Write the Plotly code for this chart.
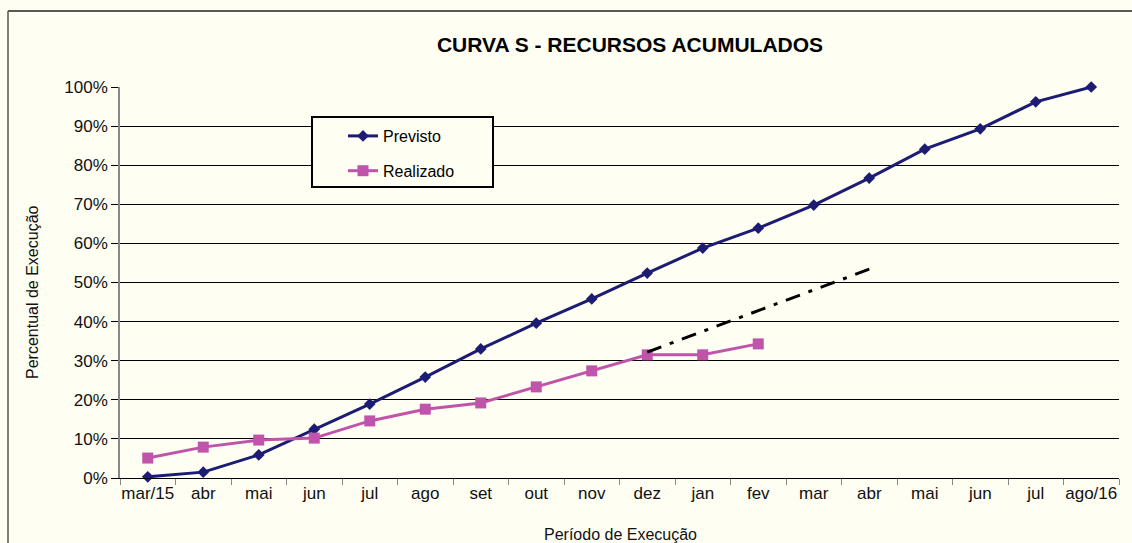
import plotly.graph_objects as go

months = ["mar/15", "abr", "mai", "jun", "jul", "ago", "set", "out", "nov", "dez",
          "jan", "fev", "mar", "abr", "mai", "jun", "jul", "ago/16"]
previsto = [0.3, 1.5, 5.9, 12.5, 18.9, 25.8, 33.0, 39.6, 45.8, 52.4,
            58.8, 63.9, 69.8, 76.7, 84.1, 89.3, 96.2, 100.0]
realizado = [5.1, 7.9, 9.7, 10.2, 14.6, 17.6, 19.2, 23.3, 27.4, 31.5, 31.5, 34.3]
trend_x = [9, 13.15]
trend_y = [32.2, 54.2]
y_ticks = [0, 10, 20, 30, 40, 50, 60, 70, 80, 90, 100]

BG = "#FEFEF3"
NAVY = "#1C1C74"
MAGENTA = "#C054AA"
FONT = "Liberation Sans, Arial, sans-serif"

xi = list(range(len(months)))

fig = go.Figure()
fig.add_trace(go.Scatter(
    x=xi, y=previsto, mode="lines+markers", name="Previsto",
    line=dict(color=NAVY, width=3),
    marker=dict(symbol="diamond", size=9, color=NAVY),
    legendgroup="a", cliponaxis=False))
fig.add_trace(go.Scatter(
    x=xi[:len(realizado)], y=realizado, mode="lines+markers", name="Realizado",
    line=dict(color=MAGENTA, width=3),
    marker=dict(symbol="square", size=11, color=MAGENTA),
    legendgroup="b", cliponaxis=False))
fig.add_trace(go.Scatter(
    x=trend_x, y=trend_y, mode="lines", showlegend=False,
    line=dict(color="black", width=3, dash="15px,9px,4px,9px")))

W, H = 1132, 543
L, R, T, B = 120, 13, 87, 65
pw, ph = W - L - R, H - T - B

def px(x):
    return (x - L) / pw

def py(y):
    return (H - B - y) / ph

fig.update_layout(
    width=W, height=H,
    margin=dict(l=L, r=R, t=T, b=B),
    paper_bgcolor=BG, plot_bgcolor=BG,
    font=dict(family=FONT, color="#111111"),
    title=dict(text="<b>CURVA S - RECURSOS ACUMULADOS</b>",
               x=px(630), xanchor="center", xref="paper",
               y=1 - 45 / H, yanchor="middle",
               font=dict(size=21, color="black", family=FONT)),
    showlegend=True,
    legend=dict(x=px(343), y=py(119), xanchor="left", yanchor="top",
                bgcolor="rgba(0,0,0,0)", borderwidth=0,
                font=dict(size=16, color="black", family=FONT),
                traceorder="grouped", tracegroupgap=11),
    xaxis=dict(
        range=[-0.5, len(months) - 0.5],
        tickmode="array", tickvals=xi, ticktext=months,
        ticks="", showgrid=False, zeroline=False,
        showline=True, linecolor="black", linewidth=1,
        tickfont=dict(size=17, color="#111111"),
        minor=dict(tickmode="array",
                   tickvals=[i - 0.5 for i in range(len(months) + 1)],
                   ticks="outside", ticklen=6, tickcolor="#888888",
                   showgrid=False),
    ),
    yaxis=dict(
        range=[0, 100],
        tickmode="array", tickvals=y_ticks,
        ticktext=[f"{v}%" for v in y_ticks],
        ticks="outside", ticklen=7, tickcolor="black",
        showgrid=True, gridcolor="black", gridwidth=1,
        zeroline=False,
        showline=True, linecolor="#888888", linewidth=1.5,
        tickfont=dict(size=17, color="#111111"),
    ),
    shapes=[
        # legend box
        dict(type="rect", xref="paper", yref="paper",
             x0=px(312), x1=px(493), y0=py(187), y1=py(117),
             line=dict(color="black", width=2), fillcolor=BG, layer="above"),
        # outer frame
        dict(type="line", xref="paper", yref="paper",
             x0=px(8), x1=px(1140), y0=py(11), y1=py(11),
             line=dict(color="#222222", width=1.5)),
        dict(type="line", xref="paper", yref="paper",
             x0=px(8), x1=px(8), y0=py(11), y1=py(560),
             line=dict(color="#555555", width=1.5)),
    ],
    annotations=[
        dict(text="Período de Execução", xref="paper", yref="paper",
             x=px(620), y=py(534), xanchor="center", yanchor="middle",
             showarrow=False, font=dict(size=16, color="#111111")),
        dict(text="Percentual de Execução", xref="paper", yref="paper",
             x=px(32), y=py(292), xanchor="center", yanchor="middle",
             textangle=-90, showarrow=False,
             font=dict(size=16, color="#111111")),
    ],
)

fig.write_html(
    "out.html",
    config={"displayModeBar": False},
    post_script=("document.body.style.margin='0';"
                 "document.body.style.padding='0';"
                 "document.body.style.overflow='hidden';"
                 "document.body.style.background='" + BG + "';"),
)
